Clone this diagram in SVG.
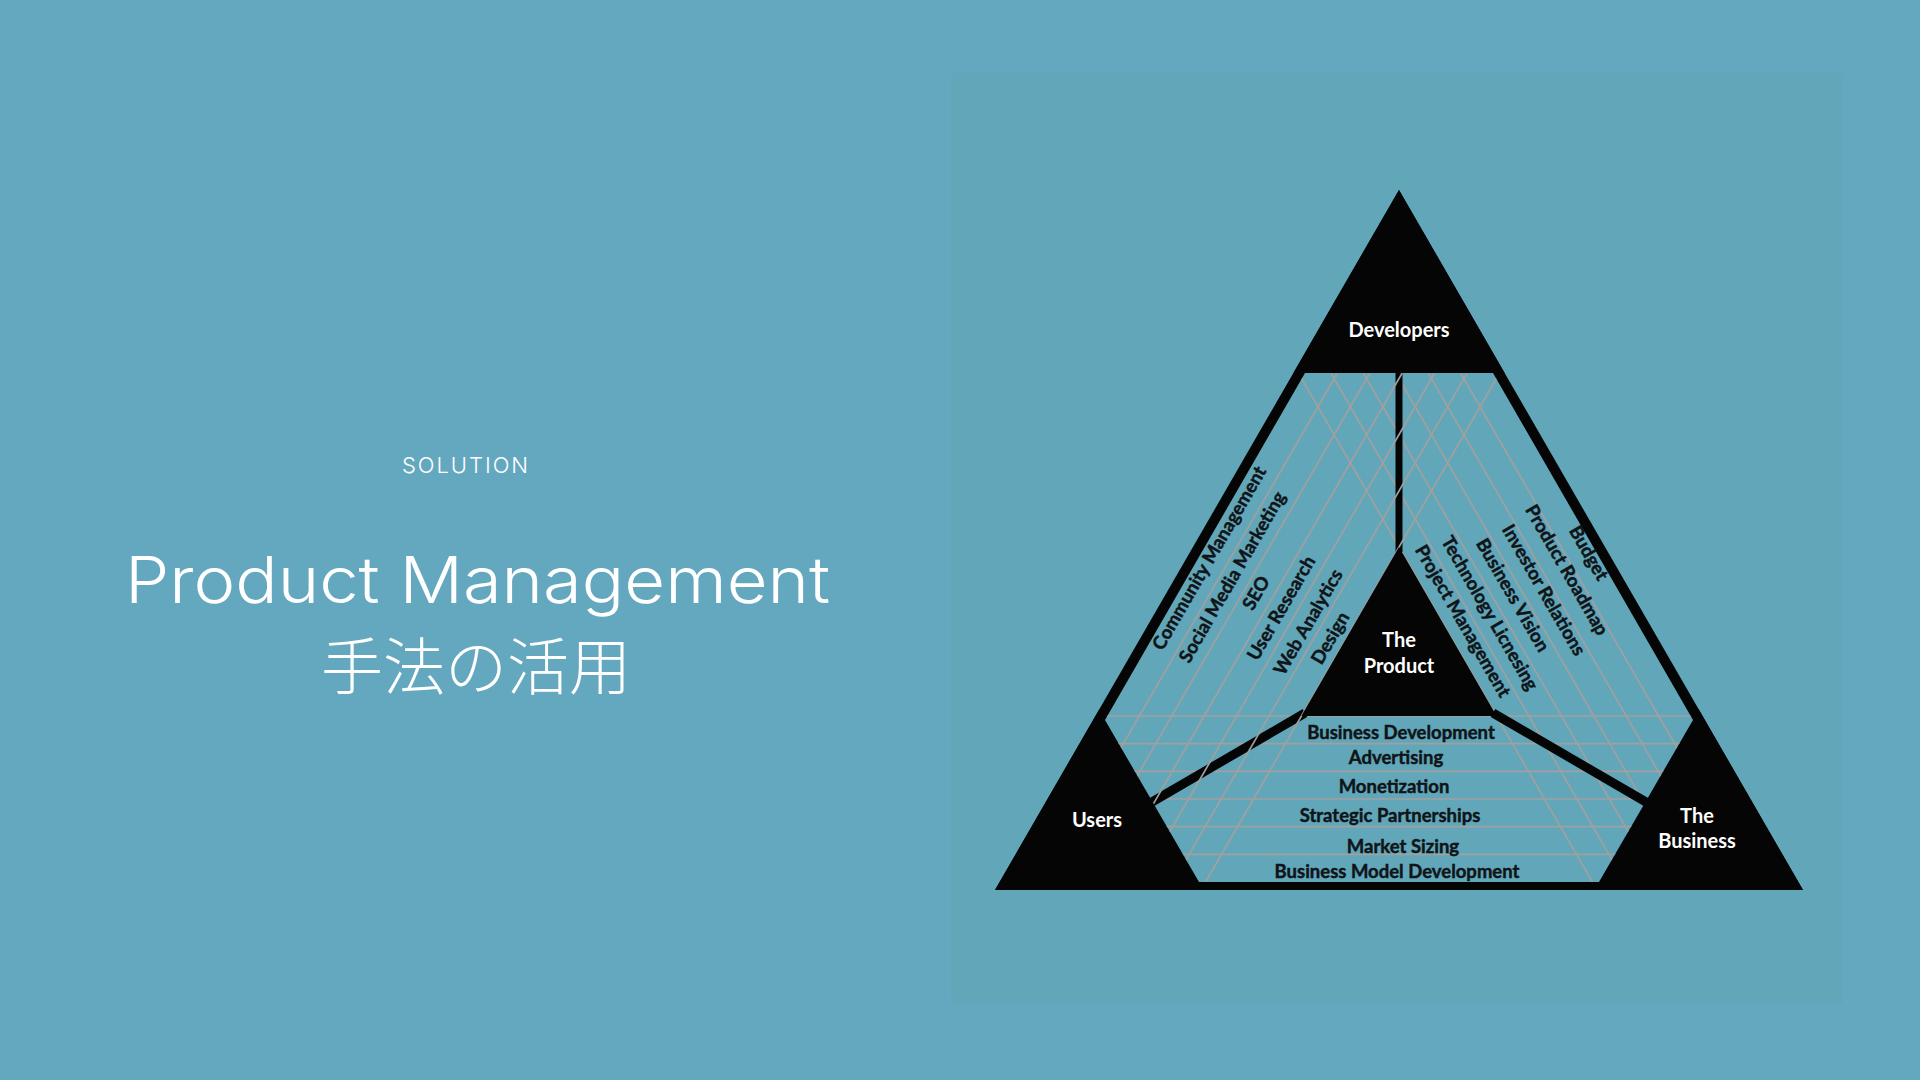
<svg xmlns="http://www.w3.org/2000/svg" width="1920" height="1080" viewBox="0 0 1920 1080">
  <defs>
    <style>
      .bg{fill:#64a8bf}
      .panel{fill:#61a7b9}
      .frame{fill:#050505}
      .light{fill:#61a7b9}
      .hatch{stroke:#a0a0a0;stroke-width:1.7;fill:none}
      .spoke{stroke:#050505;fill:none;stroke-linecap:butt}
      .lbl{font-family:Lato,"Liberation Sans",sans-serif;font-weight:700;font-size:18.5px;fill:#101418;stroke:#101418;stroke-width:0.45px;text-anchor:middle}
      .node{font-family:Lato,"Liberation Sans",sans-serif;font-weight:700;font-size:20px;fill:#ffffff;text-anchor:middle}
      .ttl{font-family:Inter,"Liberation Sans",sans-serif;font-weight:300;fill:#ffffff}
      .jp{font-family:"Noto Sans CJK JP","Noto Sans CJK SC",sans-serif;font-weight:300;fill:#ffffff}
    </style>
    <clipPath id="lightClip">
      <polygon points="1305,373 1493,373 1693,720 1599,882 1199,882 1105,720"/>
    </clipPath>
  </defs>

  <rect class="bg" x="0" y="0" width="1920" height="1080"/>
  <rect class="panel" x="951" y="73" width="892" height="931"/>

  <g id="title">
    <text class="ttl" x="402" y="473" font-size="22" textLength="126">SOLUTION</text>
    <text class="ttl" x="125" y="603" font-size="64" textLength="705" lengthAdjust="spacingAndGlyphs">Product Management</text>
    <text class="jp" x="321" y="690" font-size="62" textLength="310">手法の活用</text>
  </g>

  <g id="diagram">
    <polygon id="frame" class="frame" points="1399,190 995,890 1803,890"/>

    <g id="node-developers">
      <polygon class="frame" points="1399,190 1293.4,373 1504.6,373"/>
    </g>
    <g id="node-users">
      <polygon class="frame" points="995,890 1099.5,709 1203.6,890"/>
    </g>
    <g id="node-business">
      <polygon class="frame" points="1803,890 1698.5,709 1594.4,890"/>
    </g>

    <polygon id="field" class="light" points="1305,373 1493,373 1693,720 1599,882 1199,882 1105,720"/>

    <g id="hatch-back" clip-path="url(#lightClip)">
      <line class="hatch" x1="1460.6" y1="373" x2="1754.5" y2="882"/>
      <line class="hatch" x1="1428.2" y1="373" x2="1722.1" y2="882"/>
      <line class="hatch" x1="1395.8" y1="373" x2="1689.7" y2="882"/>
      <line class="hatch" x1="1363.4" y1="373" x2="1657.3" y2="882"/>
      <line class="hatch" x1="1330.9" y1="373" x2="1624.8" y2="882"/>
      <line class="hatch" x1="1298.5" y1="373" x2="1592.4" y2="882"/>
      <line class="hatch" x1="1090" y1="854.3" x2="1710" y2="854.3"/>
      <line class="hatch" x1="1090" y1="826.7" x2="1710" y2="826.7"/>
      <line class="hatch" x1="1090" y1="799" x2="1710" y2="799"/>
      <line class="hatch" x1="1090" y1="771.3" x2="1710" y2="771.3"/>
      <line class="hatch" x1="1090" y1="743.7" x2="1710" y2="743.7"/>
      <line class="hatch" x1="1090" y1="716" x2="1710" y2="716"/>
    </g>

    <g id="connectors">
      <line class="spoke" stroke-width="7" x1="1399" y1="372" x2="1399" y2="552"/>
      <line class="spoke" stroke-width="9" x1="1305" y1="713" x2="1152" y2="802"/>
      <line class="spoke" stroke-width="9" x1="1493" y1="713" x2="1646" y2="802"/>
    </g>

    <g id="hatch-front" clip-path="url(#lightClip)">
      <line class="hatch" x1="1337.4" y1="373" x2="1043.5" y2="882"/>
      <line class="hatch" x1="1369.8" y1="373" x2="1075.9" y2="882"/>
      <line class="hatch" x1="1402.2" y1="373" x2="1108.3" y2="882"/>
      <line class="hatch" x1="1434.6" y1="373" x2="1140.7" y2="882"/>
      <line class="hatch" x1="1467.1" y1="373" x2="1173.2" y2="882"/>
      <line class="hatch" x1="1499.5" y1="373" x2="1205.6" y2="882"/>
    </g>

    <g id="node-product">
      <polygon class="frame" points="1399,547 1301.4,716 1496.6,716"/>
      <text class="node" x="1399" y="647">The</text>
      <text class="node" x="1399" y="673">Product</text>
    </g>

    <g id="node-labels">
      <text class="node" x="1399" y="337">Developers</text>
      <text class="node" x="1097" y="827">Users</text>
      <text class="node" x="1697" y="823">The</text>
      <text class="node" x="1697" y="848">Business</text>
    </g>

    <g id="users-developers-items">
      <text class="lbl" transform="translate(1209,558) rotate(-60)" dy="6.5">Community Management</text>
      <text class="lbl" transform="translate(1232,577) rotate(-60)" dy="6.5">Social Media Marketing</text>
      <text class="lbl" transform="translate(1256,593) rotate(-60)" dy="6.5">SEO</text>
      <text class="lbl" transform="translate(1281,608) rotate(-60)" dy="6.5">User Research</text>
      <text class="lbl" transform="translate(1308,622) rotate(-60)" dy="6.5">Web Analytics</text>
      <text class="lbl" transform="translate(1330,638) rotate(-60)" dy="6.5">Design</text>
    </g>

    <g id="developers-business-items">
      <text class="lbl" transform="translate(1589,553) rotate(60)" dy="6.5">Budget</text>
      <text class="lbl" transform="translate(1567,570) rotate(60)" dy="6.5">Product Roadmap</text>
      <text class="lbl" transform="translate(1544,590) rotate(60)" dy="6.5">Investor Relations</text>
      <text class="lbl" transform="translate(1513,595) rotate(60)" dy="6.5">Business Vision</text>
      <text class="lbl" transform="translate(1490,613) rotate(60)" dy="6.5">Technology Licnesing</text>
      <text class="lbl" transform="translate(1463,621) rotate(60)" dy="6.5">Project Management</text>
    </g>

    <g id="users-business-items">
      <text class="lbl" x="1401" y="738.5">Business Development</text>
      <text class="lbl" x="1396" y="763.5">Advertising</text>
      <text class="lbl" x="1394" y="792.5">Monetization</text>
      <text class="lbl" x="1390" y="821.5">Strategic Partnerships</text>
      <text class="lbl" x="1403" y="852.5">Market Sizing</text>
      <text class="lbl" x="1397" y="877.5">Business Model Development</text>
    </g>
  </g>
</svg>
